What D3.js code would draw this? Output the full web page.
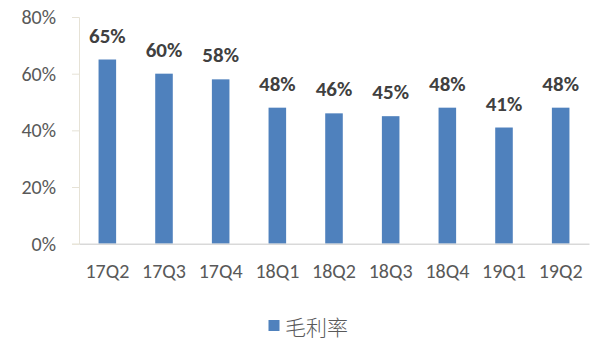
<!DOCTYPE html>
<html><head><meta charset="utf-8">
<script src="https://cdn.jsdelivr.net/npm/d3@7"></script>
<style>body{margin:0;background:#fff}</style>
</head><body>
<svg id="c" width="597" height="340"></svg>
<script>
const categories = ["17Q2","17Q3","17Q4","18Q1","18Q2","18Q3","18Q4","19Q1","19Q2"];
const values = [65,60,58,48,46,45,48,41,48];
const yTicks = [0,20,40,60,80];
const seriesName = "毛利率";

(function(){
const svg = d3.select("#c");
const mLeft = 79, mRight = 589, mTop = 17, mBottom = 243.7;
const x = d3.scaleBand().domain(categories).range([mLeft, mRight]).paddingInner(0.69).paddingOuter(0.345);
const y = d3.scaleLinear().domain([0,80]).range([mBottom, mTop]);
const font = "Calibri, Carlito, 'Open Sans', 'Liberation Sans', sans-serif";

const ya = svg.append("g").attr("transform", `translate(${mLeft},0)`)
  .call(d3.axisLeft(y).tickValues(yTicks).tickFormat(d => d + "%").tickSize(7).tickPadding(16));
ya.select(".domain").attr("stroke", "#e6e2d6");
ya.selectAll(".tick line").attr("stroke", "#e6e2d6");
ya.selectAll("text").attr("fill", "#595959").style("font-family", font).style("font-size", "20px");

svg.append("g").selectAll("rect").data(values).join("rect")
  .attr("x", (d,i) => x(categories[i]))
  .attr("width", x.bandwidth())
  .attr("y", d => y(d))
  .attr("height", d => mBottom - y(d))
  .attr("fill", "#4f81bd");

const xa = svg.append("g").attr("transform", `translate(0,${mBottom})`)
  .call(d3.axisBottom(x).tickSize(0).tickPadding(20));
xa.select(".domain").attr("stroke", "#d9d9d9").attr("stroke-width", 1.5);
xa.selectAll("text").attr("fill", "#595959").style("font-family", font).style("font-size", "20px");

svg.append("g").selectAll("text").data(values).join("text")
  .attr("x", (d,i) => x(categories[i]) + x.bandwidth()/2)
  .attr("y", d => y(d) - 17)
  .attr("text-anchor", "middle")
  .attr("fill", "#404040")
  .style("font-family", font).style("font-size", "21px").style("font-weight", "bold")
  .text(d => d + "%");

const lg = svg.append("g");
lg.append("rect").attr("x", 268.5).attr("y", 320).attr("width", 11).attr("height", 11).attr("fill", "#4f81bd");
lg.append("text").attr("x", 285).attr("y", 326).attr("dominant-baseline", "central").attr("fill", "#595959")
  .style("font-family", "'Noto Sans CJK SC', sans-serif").style("font-size", "21px").style("font-weight", "300")
  .text(seriesName);
})();
</script>
</body></html>
